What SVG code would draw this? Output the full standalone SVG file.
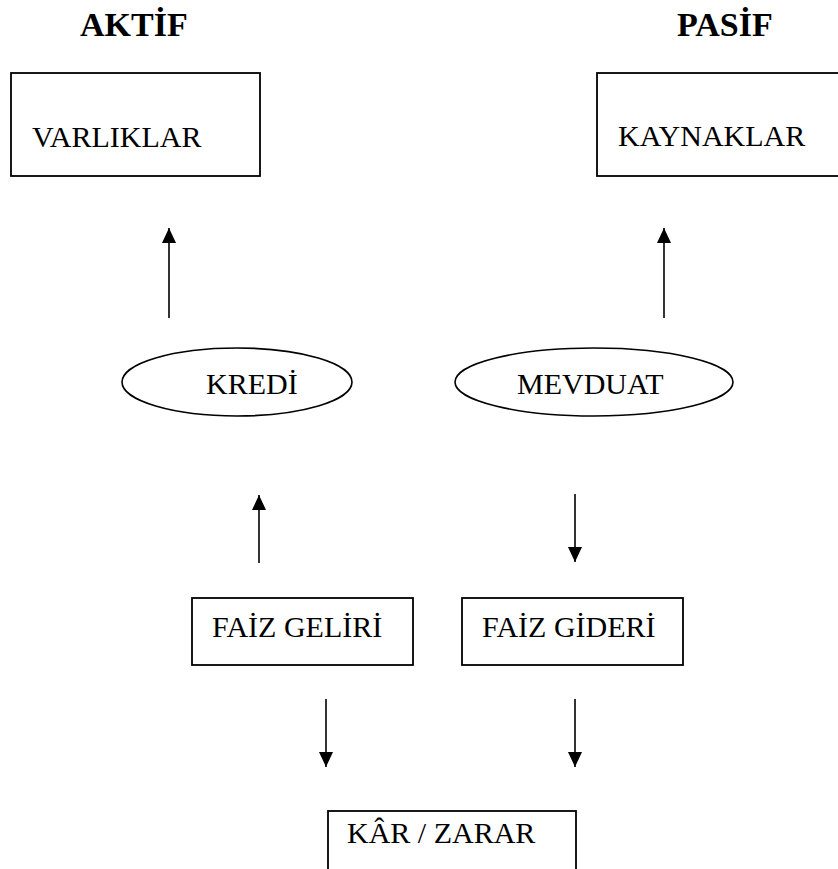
<svg xmlns="http://www.w3.org/2000/svg" width="838" height="869" viewBox="0 0 838 869">
<style>
.box{fill:#fff;stroke:#000;stroke-width:1.8}
.ell{fill:#fff;stroke:#000;stroke-width:1.6}
.t{font-family:"Liberation Serif","Times New Roman",serif;font-size:30px;fill:#000}
.h{font-family:"Liberation Serif","Times New Roman",serif;font-size:34px;font-weight:bold;fill:#000}
.c{stroke:#000;stroke-width:1.6;fill:none;marker-end:url(#ah)}
</style>
<defs>
<marker id="ah" markerUnits="userSpaceOnUse" markerWidth="16" markerHeight="14" refX="15" refY="7" orient="auto">
<path d="M0,0 L15,7 L0,14 z" fill="#000"/>
</marker>
</defs>
<rect width="838" height="869" fill="#fff"/>
<g id="aktif"><text class="h" x="80" y="36">AKTİF</text></g>
<g id="pasif"><text class="h" x="677" y="36">PASİF</text></g>
<g id="varliklar"><rect class="box" x="11" y="73" width="249" height="103"/><text class="t" x="32" y="147">VARLIKLAR</text></g>
<g id="kaynaklar"><rect class="box" x="597" y="73" width="260" height="103"/><text class="t" x="618" y="146">KAYNAKLAR</text></g>
<g id="kredi"><ellipse class="ell" cx="237" cy="382" rx="115" ry="34"/><text class="t" x="206" y="394">KREDİ</text></g>
<g id="mevduat"><ellipse class="ell" cx="594" cy="382" rx="139" ry="34"/><text class="t" x="517" y="394">MEVDUAT</text></g>
<g id="faizgeliri"><rect class="box" x="192" y="598" width="221" height="67"/><text class="t" x="212" y="637">FAİZ GELİRİ</text></g>
<g id="faizgideri"><rect class="box" x="462" y="598" width="221" height="67"/><text class="t" x="482" y="637">FAİZ GİDERİ</text></g>
<g id="karzarar"><rect class="box" x="328" y="811" width="248" height="80"/><text class="t" x="347" y="843">KÂR / ZARAR</text></g>
<g id="connectors">
<line class="c" x1="169" y1="318" x2="169" y2="228"/>
<line class="c" x1="664" y1="318" x2="664" y2="228"/>
<line class="c" x1="259" y1="563" x2="259" y2="495"/>
<line class="c" x1="575" y1="494" x2="575" y2="562"/>
<line class="c" x1="326" y1="699" x2="326" y2="767"/>
<line class="c" x1="575" y1="699" x2="575" y2="767"/>
</g>
</svg>
